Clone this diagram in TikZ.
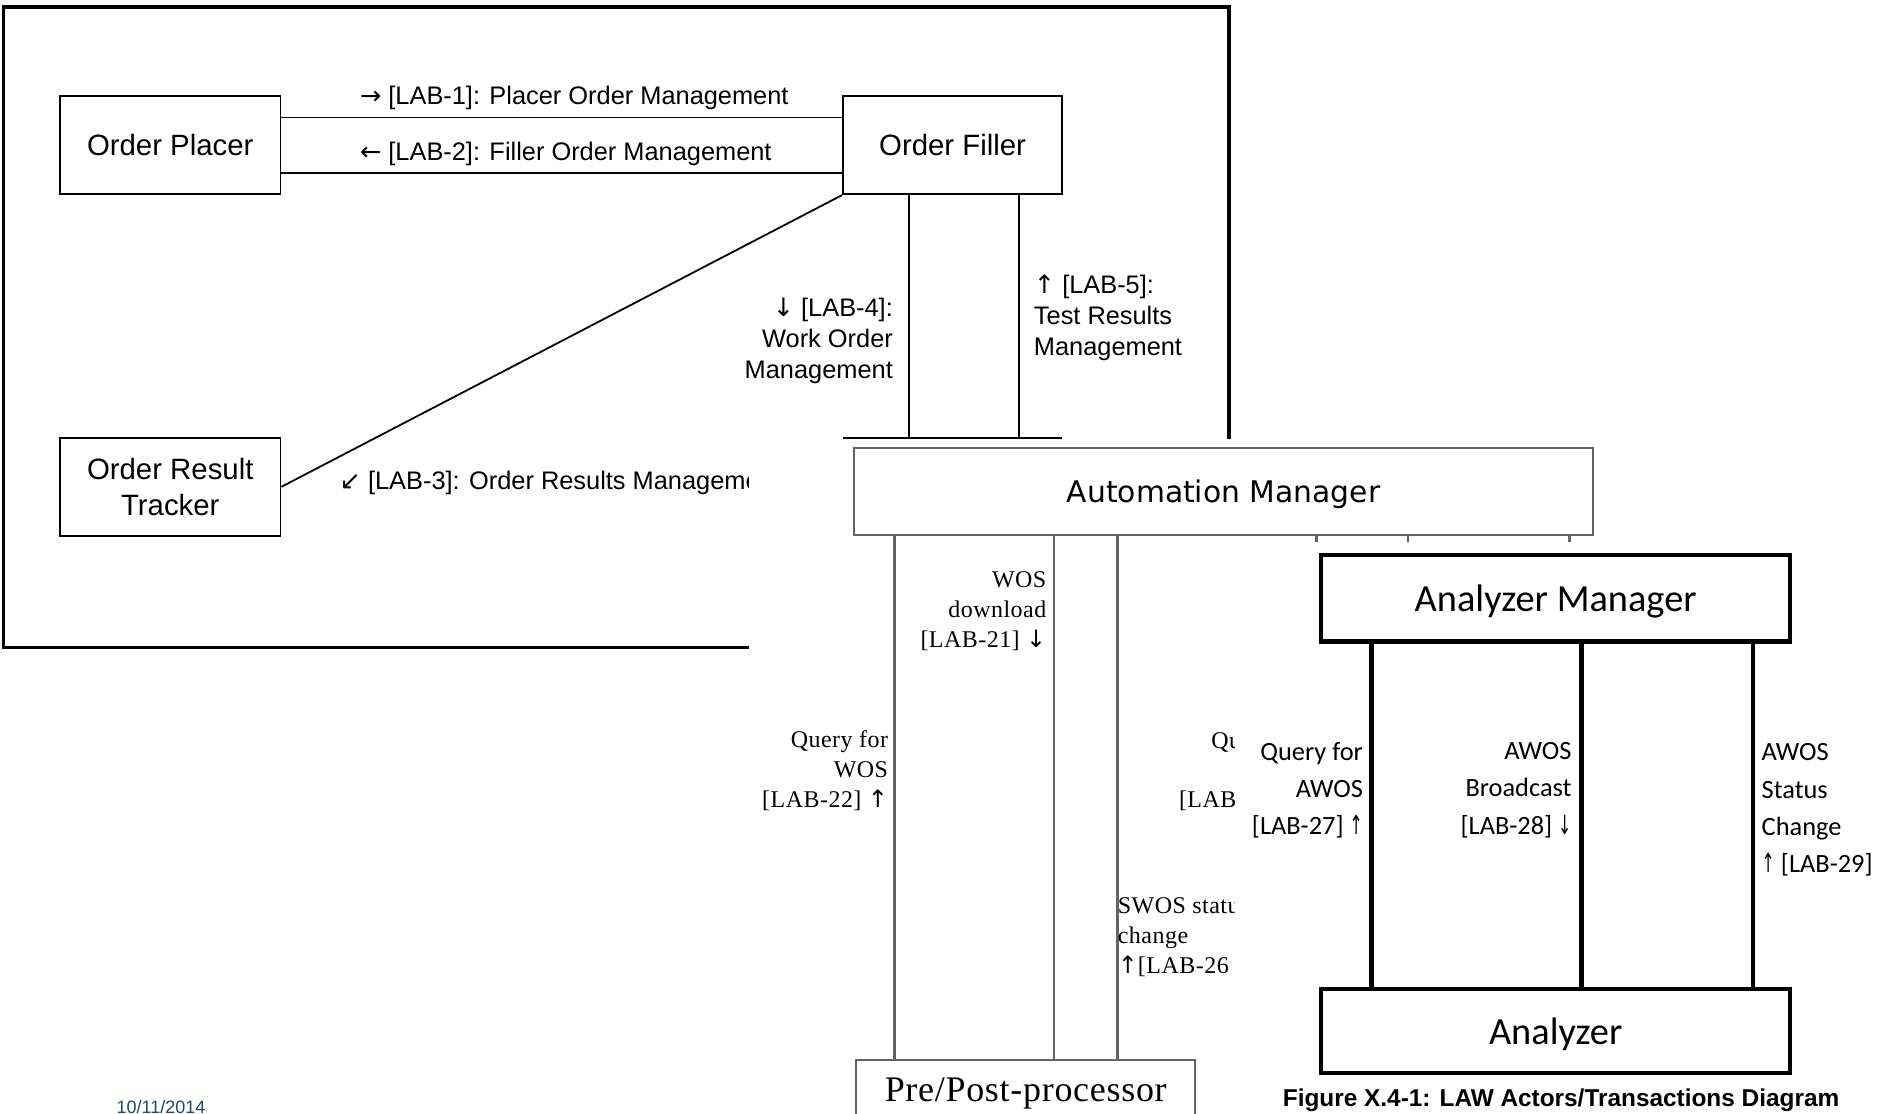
\documentclass[tikz,border=0pt]{standalone}
\usepackage{fontspec}
\usepackage{graphicx}
\setmainfont{Liberation Sans}
\newfontfamily\arialf{Liberation Sans}
\newfontfamily\dejavu{DejaVu Sans}
\newfontfamily\timesf[LetterSpace=2]{Liberation Serif}
\newfontfamily\calib{Carlito}
\newcommand\thinar[1]{\scalebox{0.6}[1]{\dejavu #1}}
\definecolor{graybox}{RGB}{100,100,100}
\definecolor{datecol}{RGB}{31,73,105}
\begin{document}
\begin{tikzpicture}[x=0.6pt,y=-0.6pt,
  boxa/.style={draw, line width=0.9pt, inner sep=0, font=\arialf\fontsize{14.7}{18}\selectfont, align=center},
  linea/.style={line width=0.9pt},
  laba/.style={inner sep=0, font=\arialf\fontsize{12.7}{15.5}\selectfont},
  boxb/.style={draw=graybox, line width=1pt, inner sep=0, text depth=0pt},
  lineb/.style={draw=graybox, line width=1.1pt},
  labb/.style={inner sep=0, font=\timesf\fontsize{12}{15}\selectfont},
  boxc/.style={draw, line width=2.2pt, inner sep=0, text depth=0pt, font=\calib\fontsize{19.2}{22}\selectfont},
  linec/.style={line width=2.2pt},
  labc/.style={inner sep=0, font=\calib\fontsize{13.2}{18.6}\selectfont},
]
\useasboundingbox (0,0) rectangle (1568,929);
\clip (0,0) rectangle (1568,929);
\fill[white] (0,0) rectangle (1568,929);
% ---------- image 1 ----------
\draw[line width=1.8pt] (3,6) rectangle (1025,540);
\node[boxa, minimum width=110.4pt, minimum height=49.2pt] (op) at (142,121) {Order Placer};
\node[boxa, minimum width=109.8pt, minimum height=49.2pt] (of) at (794.5,121) {Order Filler};
\node[boxa, minimum width=110.4pt, minimum height=49.2pt] (ort) at (142,406) {Order Result\\Tracker};
\draw[linea] ([yshift=13.8pt]op.east) -- ([yshift=13.8pt]of.west);
\draw[linea] ([yshift=-13.8pt]op.east) -- ([yshift=-13.8pt]of.west);
\draw[linea] (of.south west) -- (ort.east);
\coordinate (amtl) at (703,365);
\coordinate (amtr) at (886,365);
\draw[linea] (amtl) -- (amtr);
\draw[linea] (of.south -| 758,0) -- (amtl -| 758,0);
\draw[linea] (of.south -| 850,0) -- (amtl -| 850,0);
\node[laba, anchor=west] (l1) at (300,82) {{\dejavu →} [LAB-1]: Placer Order Management};
\node[laba, anchor=west] (l2) at (300,128) {{\dejavu ←} [LAB-2]: Filler Order Management};
\node[laba, anchor=west] (l3) at (283,403) {{\dejavu ↙} [LAB-3]: Order Results Manageme};
\node[laba, anchor=east, align=right] (l4) at (745,284) {{\dejavu ↓} [LAB-4]:\\Work Order\\Management};
\node[laba, anchor=west, align=left] (l5) at (862,265) {{\dejavu ↑} [LAB-5]:\\Test Results\\Management};
% ---------- image 2 ----------
\fill[white] (625,366) rectangle (1568,929);
\node[boxb, minimum width=370.2pt, minimum height=43.2pt, font=\dejavu\fontsize{14.9}{18}\selectfont] (am) at (1020.5,410) {Automation Manager};
\node[boxb, minimum width=169.8pt, minimum height=30pt, font=\timesf\fontsize{18}{20}\selectfont, anchor=north] (pp) at (855.5,883) {Pre/Post-processor};
\draw[lineb] (am.south -| 746,0) -- (pp.north -| 746,0);
\draw[lineb] (am.south -| 879,0) -- (pp.north -| 879,0);
\draw[lineb] (am.south -| 932,0) -- (pp.north -| 932,0);
\foreach \x in {1098,1174,1309} \draw[lineb] (am.south -| \x,0) -- ++(0,12);
\node[labb, anchor=east, align=right] (l21) at (873,510) {WOS\\download\\{[LAB-21] {\dejavu ↓}}};
\node[labb, anchor=east, align=right] (l22) at (741,643) {Query for\\WOS\\{[LAB-22] {\dejavu ↑}}};
\node[labb, anchor=west] (l25a) at (1010,619) {Qu};
\node[labb, anchor=west] (l25b) at (983,668) {{[LAB}};
\node[labb, anchor=west, align=left] (l26) at (932,782) {SWOS statu\\change\\{{\dejavu ↑}[LAB-26}};
% ---------- image 3 ----------
\fill[white] (1030,452) rectangle (1568,929);
\node[boxc, minimum width=234.6pt, minimum height=43.2pt] (anm) at (1297.5,499) {Analyzer Manager};
\node[boxc, minimum width=234.6pt, minimum height=42pt] (an) at (1297.5,860) {Analyzer};
\draw[linec] (anm.south -| 1144,0) -- (an.north -| 1144,0);
\draw[linec] (anm.south -| 1319,0) -- (an.north -| 1319,0);
\draw[linec] (anm.south -| 1462,0) -- (an.north -| 1462,0);
\node[labc, anchor=east, align=right] (l27) at (1137,659) {Query for\\AWOS\\{[LAB-27] \thinar{↑}}};
\node[labc, anchor=east, align=right] (l28) at (1311,659) {AWOS\\Broadcast\\{[LAB-28] \thinar{↓}}};
\node[labc, anchor=west, align=left] (l29) at (1469,675.5) {AWOS\\Status\\Change\\{\thinar{↑} [LAB-29]}};
\node[inner sep=0, font=\arialf\bfseries\fontsize{12.2}{14}\selectfont] (cap) at (1302,918) {Figure X.4-1: LAW Actors/Transactions Diagram};
\node[inner sep=0, anchor=base west, text=datecol, font=\arialf\fontsize{9}{10}\selectfont] (date) at (97,928.5) {10/11/2014};
\end{tikzpicture}
\end{document}
